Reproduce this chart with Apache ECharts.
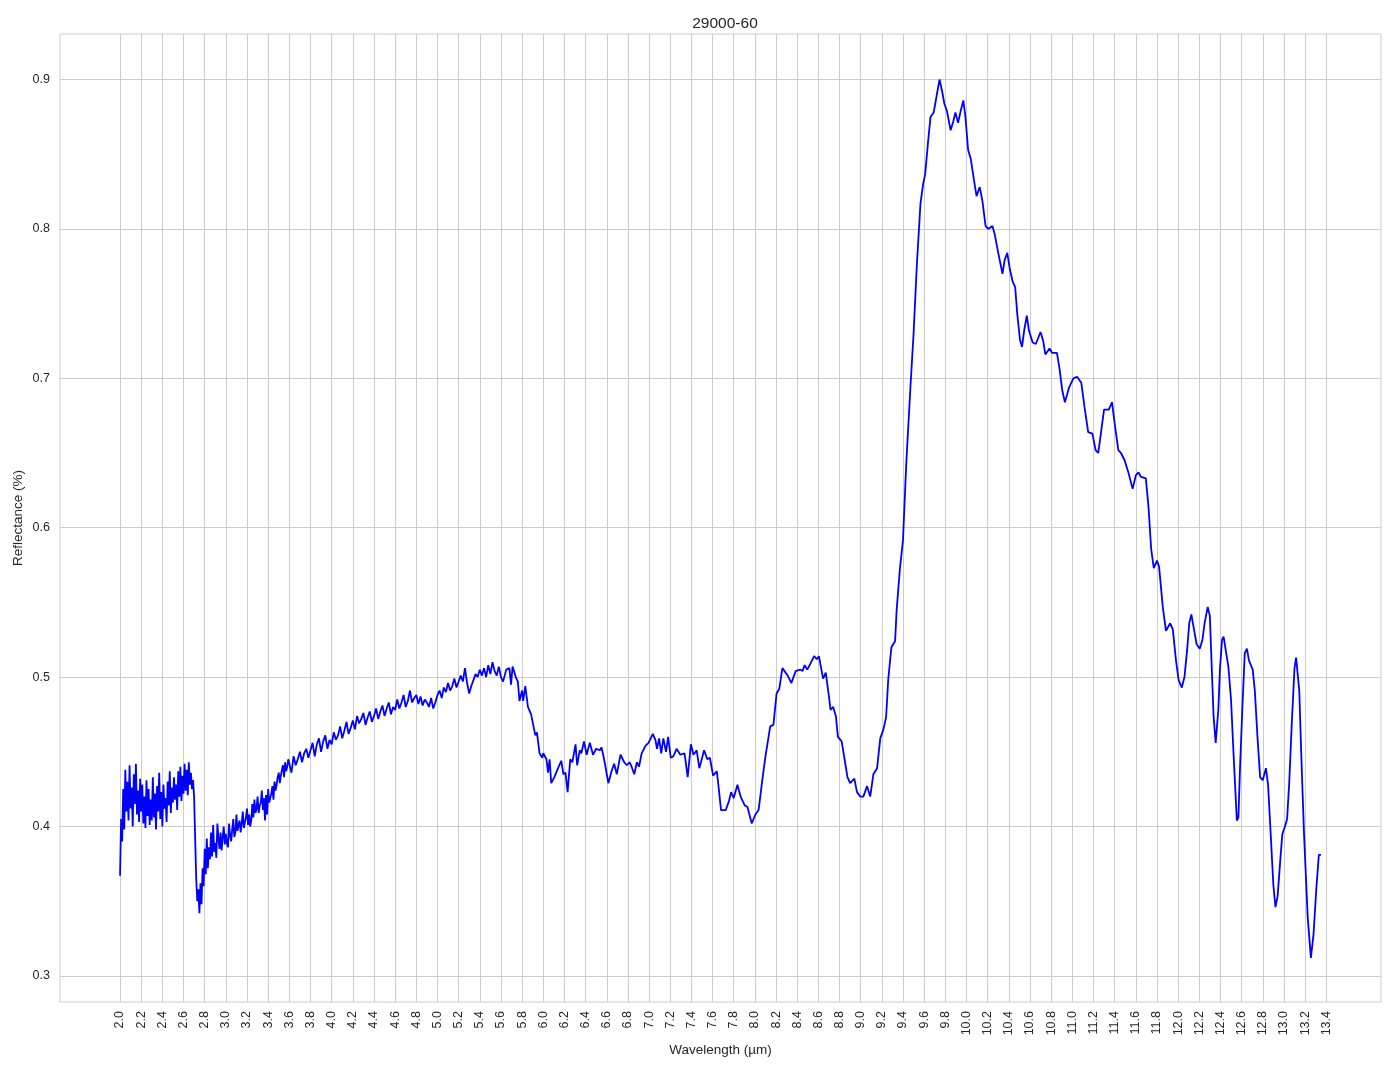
<!DOCTYPE html>
<html>
<head>
<meta charset="utf-8">
<script src="https://cdn.jsdelivr.net/npm/echarts@6/dist/echarts.min.js"></script>
<style>html,body{margin:0;padding:0;background:#fff}#chart{width:1394px;height:1069px}</style>
</head>
<body>
<div id="chart"></div>
<script>
const titleText = '29000-60';
const xAxisName = 'Wavelength (µm)';
const yAxisName = 'Reflectance (%)';

const xTicks = [2.0,2.2,2.4,2.6,2.8,3.0,3.2,3.4,3.6,3.8,4.0,4.2,4.4,4.6,4.8,5.0,5.2,5.4,5.6,5.8,
  6.0,6.2,6.4,6.6,6.8,7.0,7.2,7.4,7.6,7.8,8.0,8.2,8.4,8.6,8.8,9.0,9.2,9.4,9.6,9.8,
  10.0,10.2,10.4,10.6,10.8,11.0,11.2,11.4,11.6,11.8,12.0,12.2,12.4,12.6,12.8,13.0,13.2,13.4];
const yTicks = [0.3,0.4,0.5,0.6,0.7,0.8,0.9];

const wavelength = [
  2.00,2.01,2.02,2.03,2.04,2.05,2.06,2.07,2.08,2.09,
  2.10,2.11,2.12,2.13,2.14,2.15,2.16,2.17,2.18,2.19,
  2.20,2.21,2.22,2.23,2.24,2.25,2.26,2.27,2.28,2.29,
  2.30,2.31,2.32,2.33,2.34,2.35,2.36,2.37,2.38,2.39,
  2.40,2.41,2.42,2.43,2.44,2.45,2.46,2.47,2.48,2.49,
  2.50,2.51,2.52,2.53,2.54,2.55,2.56,2.57,2.58,2.59,
  2.60,2.61,2.62,2.63,2.64,2.65,2.66,2.67,2.68,2.69,
  2.70,2.71,2.72,2.73,2.74,2.75,2.76,2.77,2.78,2.79,
  2.80,2.81,2.82,2.83,2.84,2.85,2.86,2.87,2.88,2.89,
  2.90,2.91,2.92,2.93,2.94,2.95,2.96,2.97,2.98,2.99,
  3.00,3.01,3.02,3.03,3.04,3.05,3.06,3.07,3.08,3.09,
  3.10,3.11,3.12,3.13,3.14,3.15,3.16,3.17,3.18,3.19,
  3.20,3.21,3.22,3.23,3.24,3.25,3.26,3.27,3.28,3.29,
  3.30,3.31,3.32,3.33,3.34,3.35,3.36,3.37,3.38,3.39,
  3.40,3.41,3.42,3.43,3.44,3.45,3.46,3.47,3.48,3.49,
  3.50,3.51,3.52,3.53,3.54,3.55,3.56,3.57,3.58,3.59,
  3.60,3.62,3.64,3.66,3.68,3.70,3.72,3.74,3.76,3.78,
  3.80,3.82,3.84,3.86,3.88,3.90,3.92,3.94,3.96,3.98,
  4.00,4.02,4.04,4.06,4.08,4.10,4.12,4.14,4.16,4.18,
  4.20,4.22,4.24,4.26,4.28,4.30,4.32,4.34,4.36,4.38,
  4.40,4.42,4.44,4.46,4.48,4.50,4.52,4.54,4.56,4.58,
  4.60,4.62,4.64,4.66,4.68,4.70,4.72,4.74,4.76,4.78,
  4.80,4.82,4.84,4.86,4.88,4.90,4.92,4.94,4.96,4.98,
  5.00,5.02,5.04,5.06,5.08,5.10,5.12,5.14,5.16,5.18,
  5.20,5.22,5.24,5.26,5.28,5.30,5.32,5.34,5.36,5.38,
  5.40,5.42,5.44,5.46,5.48,5.50,5.52,5.54,5.56,5.58,
  5.60,5.62,5.65,5.68,5.695,5.71,5.74,5.76,5.775,5.80,
  5.81,5.83,5.855,5.885,5.90,5.925,5.94,5.965,5.99,6.00,
  6.03,6.045,6.06,6.075,6.105,6.14,6.17,6.19,6.21,6.23,
  6.255,6.275,6.305,6.32,6.345,6.36,6.385,6.41,6.44,6.47,
  6.50,6.535,6.55,6.575,6.615,6.645,6.67,6.695,6.73,6.765,
  6.79,6.815,6.835,6.86,6.885,6.905,6.93,6.965,6.995,7.035,
  7.06,7.075,7.095,7.115,7.135,7.16,7.18,7.205,7.23,7.26,
  7.295,7.335,7.365,7.395,7.42,7.45,7.475,7.52,7.55,7.575,
  7.605,7.64,7.65,7.68,7.725,7.755,7.775,7.80,7.835,7.865,
  7.905,7.93,7.97,8.005,8.035,8.07,8.10,8.145,8.175,8.205,
  8.23,8.26,8.29,8.31,8.345,8.385,8.43,8.45,8.47,8.495,
  8.525,8.56,8.585,8.605,8.645,8.67,8.70,8.715,8.74,8.765,
  8.785,8.82,8.85,8.875,8.90,8.94,8.965,8.995,9.025,9.06,
  9.09,9.12,9.155,9.185,9.215,9.24,9.26,9.29,9.325,9.34,
  9.37,9.40,9.43,9.47,9.50,9.53,9.565,9.59,9.61,9.635,
  9.66,9.69,9.72,9.745,9.77,9.79,9.815,9.85,9.875,9.895,
  9.92,9.945,9.97,9.99,10.015,10.04,10.07,10.095,10.125,10.15,
  10.18,10.205,10.245,10.265,10.30,10.34,10.36,10.385,10.41,10.435,
  10.46,10.48,10.505,10.525,10.545,10.57,10.59,10.625,10.655,10.70,
  10.725,10.745,10.785,10.81,10.855,10.88,10.905,10.93,10.97,11.01,
  11.045,11.085,11.115,11.15,11.19,11.22,11.245,11.27,11.30,11.325,
  11.345,11.375,11.40,11.435,11.46,11.495,11.53,11.57,11.60,11.625,
  11.65,11.695,11.72,11.745,11.77,11.80,11.82,11.855,11.885,11.925,
  11.95,11.98,12.005,12.035,12.06,12.085,12.105,12.125,12.15,12.175,
  12.205,12.23,12.25,12.28,12.30,12.315,12.335,12.355,12.38,12.395,
  12.415,12.43,12.45,12.475,12.50,12.525,12.555,12.57,12.585,12.61,
  12.63,12.65,12.67,12.705,12.725,12.75,12.775,12.80,12.83,12.85,
  12.875,12.90,12.92,12.94,12.965,12.985,13.01,13.03,13.05,13.075,
  13.10,13.115,13.13,13.145,13.165,13.19,13.225,13.255,13.28,13.305,
  13.33,13.35
];

const reflectance = [
  .367,.405,.390,.425,.398,.438,.410,.430,.404,.441,
  .412,.426,.400,.435,.415,.442,.408,.424,.403,.432,
  .410,.428,.402,.420,.399,.431,.407,.425,.401,.418,
  .404,.433,.406,.422,.398,.427,.410,.436,.405,.423,
  .400,.428,.412,.419,.403,.430,.414,.437,.409,.426,
  .416,.433,.418,.428,.411,.437,.420,.440,.417,.434,
  .422,.442,.424,.438,.421,.443,.428,.436,.425,.431,
  .420,.392,.365,.350,.358,.342,.362,.348,.372,.360,
  .385,.368,.392,.372,.386,.378,.396,.380,.401,.383,
  .389,.379,.402,.392,.385,.396,.384,.393,.400,.388,
  .395,.389,.386,.402,.394,.390,.398,.405,.393,.396,
  .408,.397,.401,.404,.396,.402,.410,.399,.403,.406,
  .412,.401,.408,.400,.404,.415,.406,.418,.409,.412,
  .420,.409,.414,.416,.424,.411,.419,.404,.421,.408,
  .425,.416,.419,.422,.427,.418,.430,.424,.428,.433,
  .436,.429,.434,.438,.441,.433,.443,.437,.440,.445,
  .444,.436,.447,.441,.445,.450,.443,.449,.452,.446,
  .451,.456,.447,.455,.459,.450,.457,.461,.452,.458,
  .455,.463,.458,.461,.467,.459,.464,.470,.462,.466,
  .471,.465,.474,.469,.472,.476,.468,.473,.477,.470,
  .474,.479,.472,.477,.481,.474,.479,.483,.475,.480,
  .478,.485,.479,.483,.488,.480,.484,.491,.483,.486,
  .488,.482,.487,.481,.485,.483,.480,.486,.479,.483,
  .488,.491,.486,.493,.490,.496,.491,.494,.499,.493,
  .497,.501,.497,.506,.496,.489,.494,.498,.502,.500,
  .505,.501,.506,.500,.508,.502,.510,.504,.501,.507,
  .500,.497,.505,.506,.495,.507,.500,.497,.484,.491,
  .484,.494,.480,.475,.474,.461,.463,.449,.446,.449,
  .445,.436,.445,.429,.433,.439,.444,.435,.436,.423,
  .445,.443,.455,.441,.451,.449,.457,.448,.456,.448,
  .452,.451,.453,.445,.429,.437,.442,.435,.448,.443,
  .441,.443,.440,.435,.443,.440,.449,.454,.456,.462,
  .458,.452,.459,.449,.459,.450,.460,.446,.447,.452,
  .448,.449,.433,.455,.448,.451,.439,.451,.445,.446,
  .434,.437,.431,.411,.411,.417,.423,.419,.428,.420,
  .414,.413,.402,.408,.411,.431,.447,.467,.468,.489,
  .492,.506,.503,.501,.496,.504,.505,.504,.508,.505,
  .509,.514,.512,.514,.499,.503,.487,.478,.480,.474,
  .460,.457,.444,.433,.429,.432,.423,.420,.420,.427,
  .420,.435,.439,.459,.465,.473,.498,.520,.524,.545,
  .572,.592,.642,.694,.730,.775,.817,.830,.837,.857,
  .875,.878,.890,.900,.892,.884,.879,.866,.872,.878,
  .871,.879,.886,.875,.853,.847,.833,.822,.828,.819,
  .802,.800,.802,.797,.784,.770,.779,.784,.773,.765,
  .761,.743,.726,.721,.732,.742,.732,.724,.723,.731,
  .725,.716,.720,.717,.717,.706,.692,.684,.694,.700,
  .701,.697,.681,.664,.663,.652,.650,.663,.679,.679,
  .679,.684,.670,.652,.650,.645,.637,.626,.635,.637,
  .634,.633,.614,.586,.573,.578,.574,.547,.531,.536,
  .532,.511,.498,.493,.500,.518,.536,.542,.532,.522,
  .519,.525,.536,.547,.541,.512,.474,.456,.478,.505,
  .525,.527,.518,.507,.485,.447,.404,.406,.439,.484,
  .516,.519,.511,.505,.491,.460,.433,.431,.439,.428,
  .395,.361,.346,.353,.377,.395,.400,.405,.429,.470,
  .506,.513,.513,.491,.446,.395,.339,.312,.328,.357,
  .381,.381
];

const seriesData = wavelength.map((w, i) => [w, reflectance[i]]);
if (wavelength.length !== reflectance.length) console.error('length mismatch', wavelength.length, reflectance.length);

const chart = echarts.init(document.getElementById('chart'), null, {renderer: 'canvas'});
const txt = '#262626';
const font = '"Liberation Sans", Arial, sans-serif';
chart.setOption({
  animation: false,
  backgroundColor: '#ffffff',
  title: {
    text: titleText, left: 720, top: 11, textAlign: 'center',
    textStyle: {fontSize: 15.5, fontWeight: 'normal', color: txt, fontFamily: font}
  },
  grid: {left: 60, right: 13, top: 34, bottom: 67, show: true, borderColor: '#cccccc', borderWidth: 1,
    containLabel: false, outerBoundsMode: 'none'},
  xAxis: {
    type: 'value', min: 1.4325, max: 13.9175,
    name: xAxisName, nameLocation: 'middle', nameGap: 40,
    nameTextStyle: {fontSize: 13.5, color: txt, fontFamily: font},
    axisLine: {show: false},
    axisTick: {show: false, customValues: xTicks},
    axisLabel: {customValues: xTicks, rotate: 90, margin: 9, fontSize: 12.5, color: txt, fontFamily: font,
      formatter: v => v.toFixed(1)},
    splitLine: {show: true, lineStyle: {color: '#cccccc', width: 1}}
  },
  yAxis: {
    type: 'value', min: 0.2825, max: 0.9305,
    name: yAxisName, nameLocation: 'middle', nameGap: 35, nameRotate: 90, nameMoveOverlap: false,
    nameTextStyle: {fontSize: 13.5, color: txt, fontFamily: font},
    axisLine: {show: false},
    axisTick: {show: false, customValues: yTicks},
    axisLabel: {customValues: yTicks, margin: 10, fontSize: 12.5, color: txt, fontFamily: font,
      formatter: v => v.toFixed(1)},
    splitLine: {show: true, lineStyle: {color: '#cccccc', width: 1}}
  },
  series: [{
    type: 'line', data: seriesData, showSymbol: false, symbol: 'none',
    lineStyle: {color: '#0000ff', width: 1.8}, itemStyle: {color: '#0000ff'},
    smooth: false, clip: true
  }]
});
</script>
</body>
</html>
